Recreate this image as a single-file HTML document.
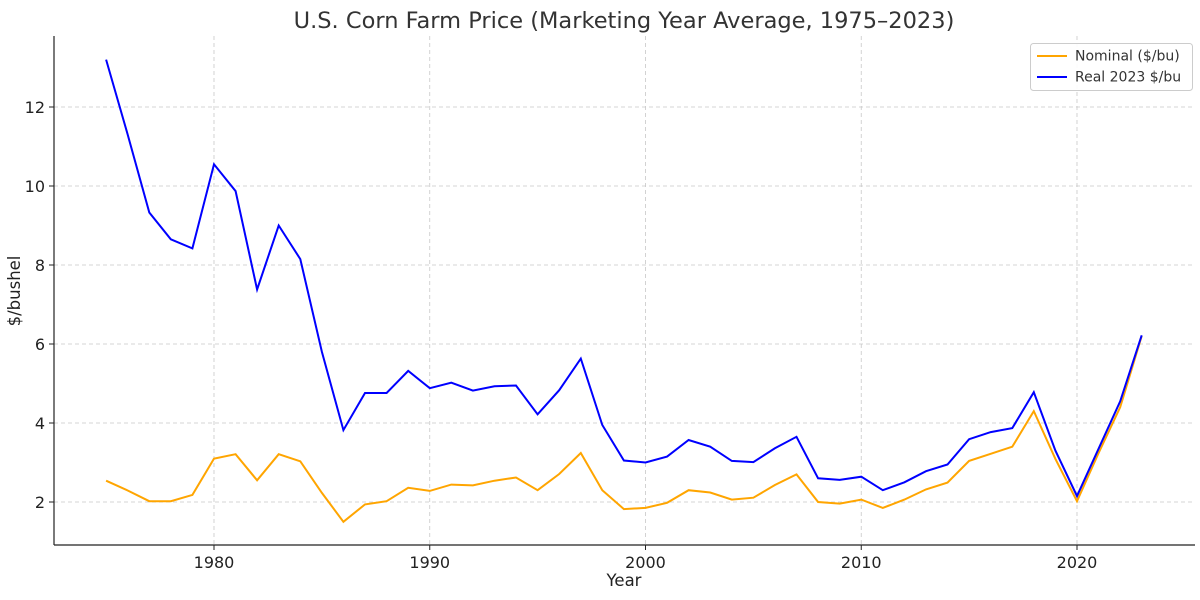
<!DOCTYPE html>
<html><head><meta charset="utf-8"><style>
html,body{margin:0;padding:0;background:#fff;}
svg{display:block;font-family:"DejaVu Sans","Liberation Sans",sans-serif;}
</style></head><body>
<svg id="s" width="1200" height="600" xmlns="http://www.w3.org/2000/svg">
<rect width="1200" height="600" fill="#fff"/>
<g id="grid" stroke="#c8c8c8" stroke-width="0.8" stroke-dasharray="4,3"></g>
<g id="lines"></g>
<line x1="54" y1="36" x2="54" y2="545" stroke="#222" stroke-width="1.2"/>
<line x1="54" y1="545" x2="1195" y2="545" stroke="#222" stroke-width="1.2"/>
<g id="ticks" font-size="16" fill="#222"></g>
<text x="624" y="28" font-size="22.5" text-anchor="middle" fill="#333">U.S. Corn Farm Price (Marketing Year Average, 1975–2023)</text>
<text x="624" y="586" font-size="16.5" text-anchor="middle" fill="#222">Year</text>
<text x="20" y="291" font-size="16.5" text-anchor="middle" fill="#222" transform="rotate(-90 20 291)">$/bushel</text>
<rect x="1030.5" y="43.5" width="162" height="47" rx="3" fill="#fff" fill-opacity="0.9" stroke="#ccc"/>
<line x1="1037" y1="56" x2="1067" y2="56" stroke="#ffa500" stroke-width="2"/>
<line x1="1037" y1="77" x2="1067" y2="77" stroke="#0000ff" stroke-width="2"/>
<text x="1075" y="60.5" font-size="14" fill="#333">Nominal ($/bu)</text>
<text x="1075" y="81.5" font-size="14" fill="#333">Real 2023 $/bu</text>
</svg>
<script>
var X=function(yr){return 214+(yr-1980)*21.575;};
var Y=function(v){return 502-(v-2)*39.5;};
var ns="http://www.w3.org/2000/svg";
function el(p,t,a,txt){var e=document.createElementNS(ns,t);for(var k in a)e.setAttribute(k,a[k]);if(txt)e.textContent=txt;document.getElementById(p).appendChild(e);}
[1980,1990,2000,2010,2020].forEach(function(y){var x=X(y);
el("grid","line",{x1:x,y1:36,x2:x,y2:545});
el("ticks","line",{x1:x,y1:545,x2:x,y2:550,stroke:"#222"});
el("ticks","text",{x:x,y:568,"text-anchor":"middle"},String(y));});
[2,4,6,8,10,12].forEach(function(v){var y=Y(v);
el("grid","line",{x1:54,y1:y,x2:1195,y2:y});
el("ticks","line",{x1:49,y1:y,x2:54,y2:y,stroke:"#222"});
el("ticks","text",{x:45,y:y+6,"text-anchor":"end"},String(v));});
var nom=[2.54,2.29,2.02,2.02,2.18,3.1,3.21,2.55,3.21,3.03,2.23,1.50,1.94,2.02,2.36,2.28,2.44,2.42,2.54,2.62,2.30,2.71,3.24,2.30,1.82,1.85,1.98,2.30,2.24,2.06,2.11,2.43,2.70,2.00,1.96,2.06,1.85,2.06,2.32,2.49,3.04,3.22,3.40,4.30,3.09,2.02,3.24,4.40,6.2];
var real=[13.2,11.3,9.33,8.65,8.42,10.55,9.87,7.38,9.0,8.15,5.8,3.82,4.76,4.76,5.32,4.88,5.02,4.82,4.93,4.95,4.22,4.83,5.63,3.95,3.05,3.0,3.15,3.57,3.4,3.04,3.01,3.36,3.65,2.6,2.56,2.64,2.3,2.5,2.78,2.95,3.59,3.77,3.87,4.78,3.3,2.15,3.35,4.55,6.22];
function pts(a){return a.map(function(v,i){return X(1975+i).toFixed(1)+","+Y(v).toFixed(1);}).join(" ");}
el("lines","polyline",{points:pts(nom),fill:"none",stroke:"#ffa500","stroke-width":2});
el("lines","polyline",{points:pts(real),fill:"none",stroke:"#0000ff","stroke-width":2});
</script>
</body></html>
